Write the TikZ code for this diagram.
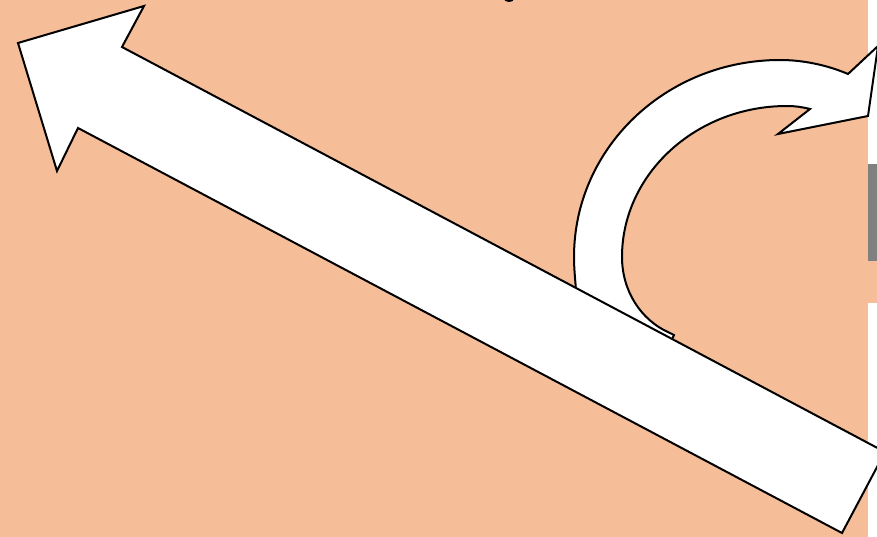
\documentclass[tikz,border=0pt]{standalone}
\definecolor{peach}{RGB}{245,190,152}
\definecolor{midgray}{RGB}{128,128,128}
\tikzset{
  shapeline/.style={draw=black, fill=white, line width=2pt, line join=miter},
}
\begin{document}
\begin{tikzpicture}[x=1pt,y=-1pt]
\useasboundingbox (0,0) rectangle (877,537);
\clip (0,0) rectangle (877,537);
\fill[white] (0,0) rectangle (877,537);
\fill[peach] (0,0) rectangle (868,537);
\fill[peach] (868,261) rectangle (877,303);
\fill[midgray] (868,164) rectangle (877,261);
\fill[black] (509,-1) ellipse [x radius=5, y radius=3];
% curved arrow
\path[shapeline]
  (576,300) .. controls (577,292) and (574,275) .. (574,257)
  .. controls (574,148) and (666,60) .. (780,60)
  .. controls (803,60) and (827,65) .. (848,74)
  -- (878,46) -- (868,116) -- (778,134) -- (810,109)
  .. controls (802,107) and (795,106) .. (787,106)
  .. controls (696,106) and (622,174) .. (622,257)
  .. controls (622,290) and (640,320) .. (670,333)
  -- (674,335) -- (668,348) -- cycle;
% straight arrow
\path[shapeline]
  (18,43) -- (144,6) -- (122,47) -- (885,452) -- (842,533)
  -- (78,128) -- (57,171) -- cycle;
\end{tikzpicture}
\end{document}
